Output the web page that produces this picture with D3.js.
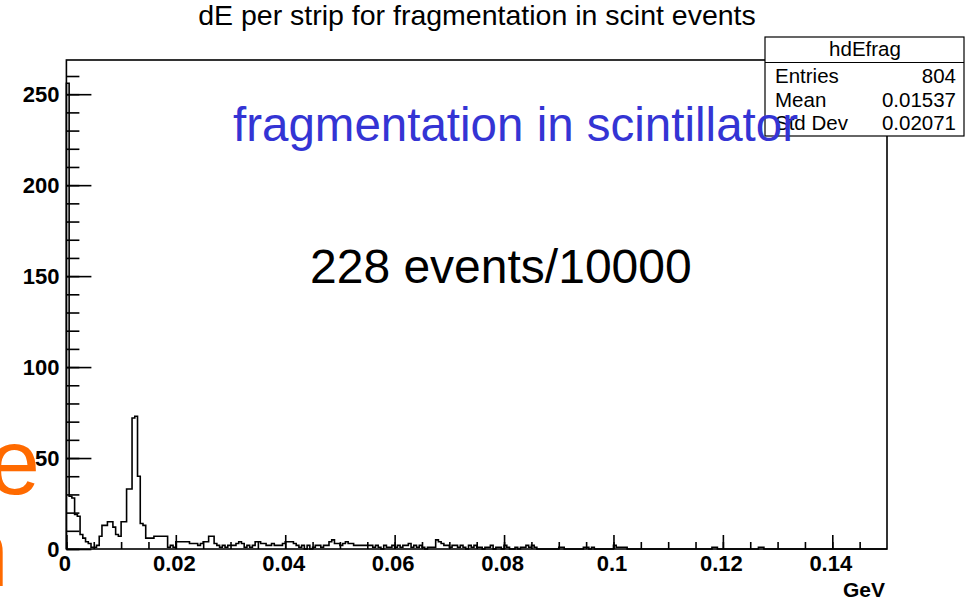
<!DOCTYPE html>
<meta charset="utf-8">
<html>
  <style>
    body, html{ margin: 0; background: #fff;}
    text{ font-family: "Liberation Sans", Arial, Helvetica, sans-serif; }
    .frame{ fill: none; stroke: #000; stroke-width: 1.6; }
    .hist{ fill: none; stroke: #000; stroke-width: 1.6; }
    .axis path{ display: none; }
    .axis line{ stroke: #000; stroke-width: 1.6; }
    .axis text{ font-weight: bold; fill: #000; }
    .stats rect, .stats line{ fill: #fff; stroke: #000; stroke-width: 1.2; }
  </style>
  <body>
    <svg></svg>
    <script src="https://cdn.jsdelivr.net/npm/d3@7"></script>
    <script>
// histogram hdEfrag: 300 bins of 0.0005 GeV from 0 to 0.15
var binWidth = 0.0005
var counts = [
  256, 29, 28, 19, 18, 8, 6, 4, 3, 1,
  1, 2, 7, 13, 13, 15, 15, 12, 8, 7,
  15, 15, 33, 33, 72, 73, 40, 14, 13, 6,
  6, 6, 7, 7, 7, 7, 7, 1, 2, 1,
  4, 4, 4, 4, 4, 3, 3, 3, 2, 3,
  4, 4, 7, 7, 3, 2, 1, 2, 1, 2,
  2, 2, 3, 4, 3, 1, 2, 1, 2, 4,
  4, 3, 3, 2, 2, 3, 2, 2, 2, 3,
  4, 4, 4, 3, 2, 1, 2, 0, 2, 0,
  1, 2, 2, 1, 2, 2, 4, 5, 3, 3,
  2, 3, 4, 3, 3, 2, 2, 2, 2, 2,
  2, 2, 1, 2, 1, 0, 2, 1, 1, 2,
  1, 2, 1, 2, 2, 3, 1, 2, 1, 2,
  1, 0, 1, 1, 1, 5, 4, 3, 2, 2,
  1, 2, 2, 1, 2, 1, 0, 2, 1, 2,
  1, 1, 0, 1, 1, 2, 0, 1, 1, 0,
  2, 1, 0, 0, 1, 0, 1, 1, 2, 1,
  2, 1, 0, 0, 0, 0, 0, 0, 0, 0,
  1, 1, 0, 0, 0, 0, 0, 0, 0, 1,
  1, 0, 1, 0, 0, 0, 0, 0, 0, 0,
  2, 1, 1, 1, 1, 0, 0, 0, 0, 0,
  0, 0, 0, 0, 0, 0, 0, 0, 0, 0,
  0, 0, 0, 0, 0, 0, 0, 0, 0, 0,
  0, 0, 0, 0, 0, 0, 1, 1, 0, 0,
  0, 0, 0, 0, 0, 0, 0, 0, 0, 0,
  0, 0, 0, 1, 1, 0, 0, 0, 0, 0,
  0, 0, 0, 0, 0, 0, 0, 0, 0, 0,
  0, 0, 0, 0, 0, 0, 0, 0, 0, 0,
  0, 0, 0, 0, 0, 0, 0, 0, 0, 0,
  0, 0, 0, 0, 0, 0, 0, 0, 0, 0
]
var xTicks = [0, 0.02, 0.04, 0.06, 0.08, 0.1, 0.12, 0.14]
var yTicks = [0, 50, 100, 150, 200, 250]
var statNames = ['Entries', 'Mean', 'Std Dev']
var statValues = ['804', '0.01537', '0.02071']

var w = 965, h = 602
  , svg = d3.select('svg').attr('width', w).attr('height', h)
  , x = d3.scaleLinear().domain([0, 0.15]).range([66.4, 887])
  , y = d3.scaleLinear().domain([0, 1.05 * d3.max(counts)]).range([549, 60])

// slide text behind the plot (orange, cut at the left edge)
svg.append('text').attr('x', 40).attr('y', 494).attr('text-anchor', 'end')
  .style('font-size', '92px').style('fill', '#ff6a00').text('e')
svg.append('text').attr('x', 9).attr('y', 586).attr('text-anchor', 'end')
  .style('font-size', '96px').style('fill', '#ff6a00').text('n')

// minor ticks
svg.append('g').attr('class', 'axis').attr('transform', 'translate(' + x(0) + ',0)')
  .call(d3.axisLeft(y).tickValues(d3.range(0, 261, 10)).tickSizeInner(-13).tickFormat(''))
svg.append('g').attr('class', 'axis').attr('transform', 'translate(0,' + y(0) + ')')
  .call(d3.axisBottom(x).tickValues(d3.range(0, 30).map(function(i){ return i * 0.005 })).tickSizeInner(-7).tickFormat(''))

// major ticks + labels
svg.append('g').attr('class', 'axis').attr('transform', 'translate(' + x(0) + ',0)')
  .call(d3.axisLeft(y).tickValues(yTicks).tickSizeInner(-25).tickPadding(7))
  .selectAll('text').style('font-size', '22px')
svg.append('g').attr('class', 'axis').attr('transform', 'translate(0,' + y(0) + ')')
  .call(d3.axisBottom(x).tickValues(xTicks).tickSizeInner(-14).tickPadding(6)
    .tickFormat(function(d){ return d === 0 ? '0' : String(+d.toFixed(2)) }))
  .selectAll('text').style('font-size', '22px').attr('dx', '-2')

svg.append('text').attr('x', 885).attr('y', 597).attr('text-anchor', 'end')
  .style('font-size', '21px').style('font-weight', 'bold').text('GeV')

// histogram outline
var pts = [[0, 0]]
counts.forEach(function(c, i){
  pts.push([i * binWidth, c], [(i + 1) * binWidth, c])
})
pts.push([counts.length * binWidth, 0])
svg.append('path').attr('class', 'hist')
  .attr('d', d3.line().x(function(d){ return x(d[0]) }).y(function(d){ return y(d[1]) })(pts))

svg.append('rect').attr('class', 'frame')
  .attr('x', x(0)).attr('y', y.range()[1])
  .attr('width', x(0.15) - x(0)).attr('height', y(0) - y.range()[1])

// title
svg.append('text').attr('x', 477).attr('y', 25).attr('text-anchor', 'middle')
  .style('font-size', '28.5px').text('dE per strip for fragmentation in scint events')

// stats box
var stats = svg.append('g').attr('class', 'stats')
stats.append('rect').attr('x', 765).attr('y', 37).attr('width', 199).attr('height', 99)
stats.append('line').attr('x1', 765).attr('x2', 964).attr('y1', 62.5).attr('y2', 62.5)
stats.append('text').attr('x', 865).attr('y', 56).attr('text-anchor', 'middle')
  .style('font-size', '20.5px').text('hdEfrag')
statNames.forEach(function(n, i){
  stats.append('text').attr('x', 775).attr('y', 83 + i * 23.5).style('font-size', '20.5px').text(n)
  stats.append('text').attr('x', 956).attr('y', 83 + i * 23.5).attr('text-anchor', 'end')
    .style('font-size', '20.5px').text(statValues[i])
})

// slide annotations
svg.append('text').attr('x', 233).attr('y', 141)
  .style('font-size', '47.5px').style('fill', '#3434d4').text('fragmentation in scintillator')
svg.append('text').attr('x', 310).attr('y', 283)
  .style('font-size', '48px').style('fill', '#000').text('228 events/10000')
    </script>
  </body>
</html>
